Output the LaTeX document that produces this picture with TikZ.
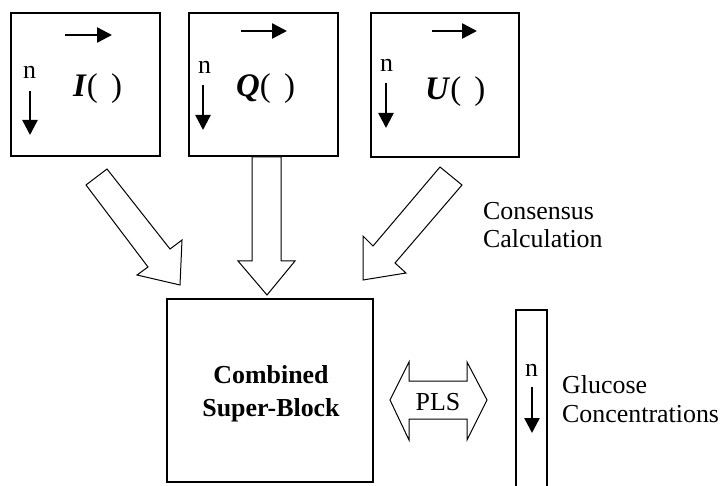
\documentclass[tikz,border=0pt]{standalone}
\usepackage{fontspec}
\setmainfont{Liberation Serif}
\usetikzlibrary{arrows.meta}
\begin{document}
\begin{tikzpicture}[x=1bp,y=-1bp,
  blk/.style={draw, line width=1.3bp, inner sep=0pt},
  blockarrow/.style={draw, line width=1bp, fill=white, line join=miter},
  smallarr/.style={line width=2.4bp, -{Triangle[length=15bp,width=15bp]}},
  lbl/.style={font=\fontsize{26}{30}\selectfont, inner sep=0pt, anchor=base west},
  bigl/.style={font=\fontsize{33}{36}\selectfont, inner sep=0pt, anchor=base west}]
\useasboundingbox (0,0) rectangle (725,486);
% top blocks
\node[blk, minimum width=149bp, minimum height=143bp] (I) at (85.5,84.5) {};
\node[blk, minimum width=149bp, minimum height=143bp] (Q) at (263.5,84.5) {};
\node[blk, minimum width=148bp, minimum height=144bp] (U) at (445,85) {};
% block I contents
\coordinate (Ih1) at (65,35); \coordinate (Ih2) at (112,35);
\coordinate (Iv1) at (30,91); \coordinate (Iv2) at (30,135);
\draw[smallarr] (Ih1) -- (Ih2);
\draw[smallarr] (Iv1) -- (Iv2);
\node[lbl] (In) at (23,79) {n};
\node[bigl] (It) at (73,97) {\textbf{\textit{I}}(\hspace{0.4em})};
% block Q contents
\coordinate (Qh1) at (241,31); \coordinate (Qh2) at (287,31);
\coordinate (Qv1) at (203,85); \coordinate (Qv2) at (203,130);
\draw[smallarr] (Qh1) -- (Qh2);
\draw[smallarr] (Qv1) -- (Qv2);
\node[lbl] (Qn) at (198,74) {n};
\node[bigl] (Qt) at (236,97) {\textbf{\textit{Q}}(\hspace{0.4em})};
% block U contents
\coordinate (Uh1) at (432,31); \coordinate (Uh2) at (477,31);
\coordinate (Uv1) at (386,83); \coordinate (Uv2) at (386,128);
\draw[smallarr] (Uh1) -- (Uh2);
\draw[smallarr] (Uv1) -- (Uv2);
\node[lbl] (Un) at (380,72) {n};
\node[bigl] (Ut) at (425,100) {\textbf{\textit{U}}(\hspace{0.4em})};
% combined super-block
\node[blk, minimum width=206bp, minimum height=183bp] (C) at (270,390.5) {};
\node[lbl, anchor=base, font=\fontsize{26}{30}\selectfont\bfseries] (C1) at (271,383) {Combined};
\node[lbl, anchor=base, font=\fontsize{26}{30}\selectfont\bfseries] (C2) at (271,416) {Super-Block};
% block arrows
\draw[blockarrow] (107,169) -- (86,185) -- (148,267) -- (137,275) -- (180,285) -- (182,240) -- (170,249) -- cycle;
\draw[blockarrow] (252,157) -- (252,261) -- (238,261) -- (267,295) -- (295,261) -- (281,261) -- (281,157) -- cycle;
\draw[blockarrow] (440,167) -- (462,185) -- (395,263) -- (406,273) -- (363,280) -- (363,236) -- (373,246) -- cycle;
\node[lbl] (cons1) at (483,220) {Consensus};
\node[lbl] (cons2) at (483,248) {Calculation};
% PLS double arrow
\draw[blockarrow] (390,400) -- (409,362) -- (409,381) -- (467,381) -- (467,362) -- (487,400) -- (467,440) -- (467,419) -- (409,419) -- (409,440) -- cycle;
\node[lbl, anchor=base] (pls) at (438,410) {PLS};
% glucose vector
\draw[line width=1.3bp] (516,487) -- (516,310) -- (547,310) -- (547,487);
\coordinate (Gv1) at (532,387); \coordinate (Gv2) at (532,433);
\draw[smallarr] (Gv1) -- (Gv2);
\node[lbl] (Gn) at (525,376) {n};
\node[lbl] (g1) at (562,393) {Glucose};
\node[lbl] (g2) at (562,422) {Concentrations};
\end{tikzpicture}
\end{document}
